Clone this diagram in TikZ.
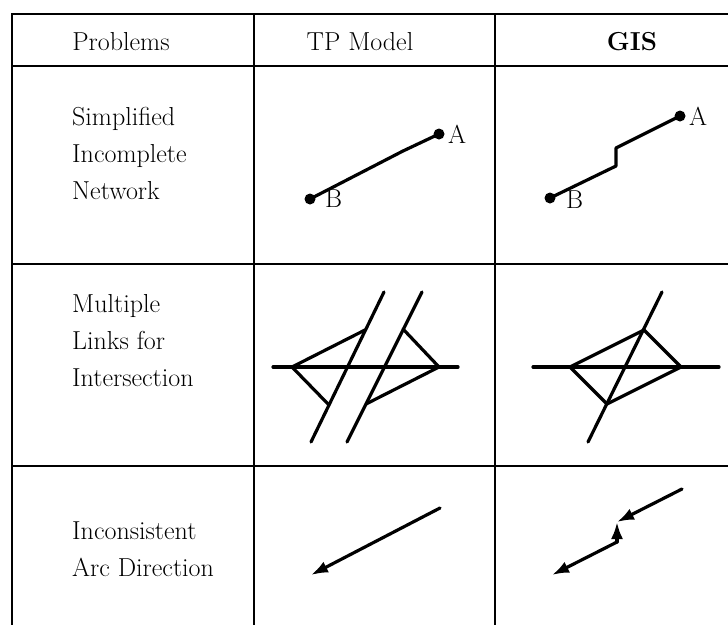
\documentclass[tikz,border=0pt]{standalone}
\usetikzlibrary{arrows.meta}
\begin{document}
\begin{tikzpicture}[x=1pt,y=-1pt,
  rule/.style={line width=2.6pt},
  link/.style={line width=3.2pt, line join=round, line cap=round},
  arc/.style={link, -{Latex[length=17pt,width=12pt]}},
  txt/.style={font=\fontsize{26}{31}\selectfont, inner sep=0pt},
  lbl/.style={txt, anchor=base west},
  dot/.style={circle, fill=black, inner sep=0pt, minimum size=11pt}]
\useasboundingbox (0,0) rectangle (728,625);
% table rules
\draw[rule] (12,14) -- (728,14);
\draw[rule] (12,66) -- (728,66);
\draw[rule] (12,264) -- (728,264);
\draw[rule] (12,466) -- (728,466);
\draw[rule] (12,13) -- (12,625);
\draw[rule] (254,13) -- (254,625);
\draw[rule] (495,13) -- (495,625);
% header
\node[txt, anchor=base] (h1) at (121,50) {Problems};
\node[txt, anchor=base] (h2) at (360,50) {TP Model};
\node[txt, anchor=base] (h3) at (632,50) {\bfseries GIS};
% left column
\node[lbl] (p1a) at (72,125) {Simplified};
\node[lbl] (p1b) at (72,162) {Incomplete};
\node[lbl] (p1c) at (72,199) {Network};
\node[lbl] (p2a) at (72,312) {Multiple};
\node[lbl] (p2b) at (72,349) {Links for};
\node[lbl] (p2c) at (72,386) {Intersection};
\node[lbl] (p3a) at (72,539) {Inconsistent};
\node[lbl] (p3b) at (72,576) {Arc Direction};
% row 1, TP model
\node[dot] (tA) at (439,134) {};
\node[dot] (tB) at (310,199) {};
\draw[link] (tB.center) -- (403,151) -- (tA.center);
\node[lbl] (tAl) at (448,143) {A};
\node[lbl] (tBl) at (325,207) {B};
% row 1, GIS
\node[dot] (gA) at (680,116) {};
\node[dot] (gB) at (550,198) {};
\coordinate (gk1) at (616,166);
\coordinate (gk2) at (616,148);
\draw[link] (gB.center) -- (gk1) -- (gk2) -- (gA.center);
\node[lbl] (gAl) at (689,125) {A};
\node[lbl] (gBl) at (566,208) {B};
% row 2, TP model
\coordinate (tL) at (292,367);
\coordinate (tR) at (439,367);
\coordinate (tUL) at (365,330);
\coordinate (tLL) at (329,405);
\coordinate (tUR) at (403,329);
\coordinate (tLR) at (366,404);
\draw[link] (273,367) -- (458,367);
\draw[link] (311,442) -- (384,292);
\draw[link] (347,442) -- (422,292);
\draw[link] (tUL) -- (tL) -- (tLL);
\draw[link] (tUR) -- (tR) -- (tLR);
% row 2, GIS
\coordinate (gL) at (570,367);
\coordinate (gR) at (681,367);
\coordinate (gU) at (644,330);
\coordinate (gD) at (607,404);
\draw[link] (533,367) -- (719,367);
\draw[link] (588,442) -- (662,292);
\draw[link] (gU) -- (gL) -- (gD) -- (gR) -- cycle;
% row 3, TP model
\coordinate (ts) at (440,508);
\coordinate (te) at (311,575);
\draw[arc] (ts) -- (te);
% row 3, GIS
\coordinate (g1) at (682,489);
\coordinate (g2) at (617,522);
\coordinate (g3) at (617,542);
\coordinate (g4) at (552,575);
\draw[arc] (g1) -- (g2);
\draw[arc] (g3) -- (g2);
\draw[arc] (g3) -- (g4);
\end{tikzpicture}
\end{document}
